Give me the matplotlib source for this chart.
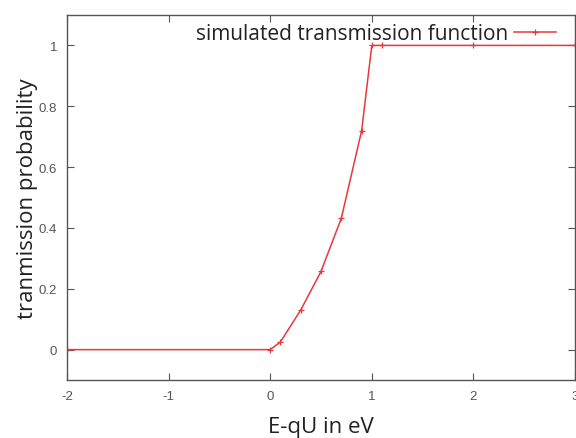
import matplotlib.pyplot as plt

# simulated transmission function
energy = [-2, 0, 0.1, 0.3, 0.5, 0.7, 0.9, 1.0, 1.1, 2, 3]
prob = [0, 0, 0.025, 0.13, 0.257, 0.432, 0.72, 1.0, 1.0, 1.0, 1.0]

xticks = [-2, -1, 0, 1, 2, 3]
yticks = [0, 0.2, 0.4, 0.6, 0.8, 1]

fig = plt.figure(figsize=(5.76, 4.39), dpi=100)
ax = fig.add_axes([0.1163, 0.132, 0.882, 0.8316])

ax.plot(energy, prob, color='#e8383d', lw=1.1, marker='+', ms=5, mew=0.9,
        label='simulated transmission function')

ax.set_xlim(-2, 3)
ax.set_ylim(-0.1, 1.1)
ax.set_xticks(xticks)
ax.set_yticks(yticks)
ax.set_xticklabels([str(t) for t in xticks], family='Liberation Sans')
ax.set_yticklabels(['0', '0.2', '0.4', '0.6', '0.8', '1'], family='Liberation Sans')
ax.tick_params(direction='in', top=True, right=True, length=5, width=0.8,
               labelsize=9.5, labelcolor='#555555', color='#555555')
ax.tick_params(axis='x', pad=7)
ax.tick_params(axis='y', pad=7)
for s in ax.spines.values():
    s.set_color('#555555')
    s.set_linewidth(1.0)

ax.set_xlabel('E-qU in eV', family='Open Sans', fontsize=16, color='#222222', labelpad=10)
ax.set_ylabel('tranmission probability', family='Open Sans', fontsize=16, color='#222222', labelpad=1)

leg = ax.legend(loc='upper right', bbox_to_anchor=(0.975, 0.995), markerfirst=False,
                frameon=False, prop={'family': 'Open Sans', 'size': 15}, handlelength=2.0,
                borderaxespad=0.1, borderpad=0.2, handletextpad=0.3)
for t in leg.get_texts():
    t.set_color('#222222')

fig.savefig('out.png', dpi=100)
